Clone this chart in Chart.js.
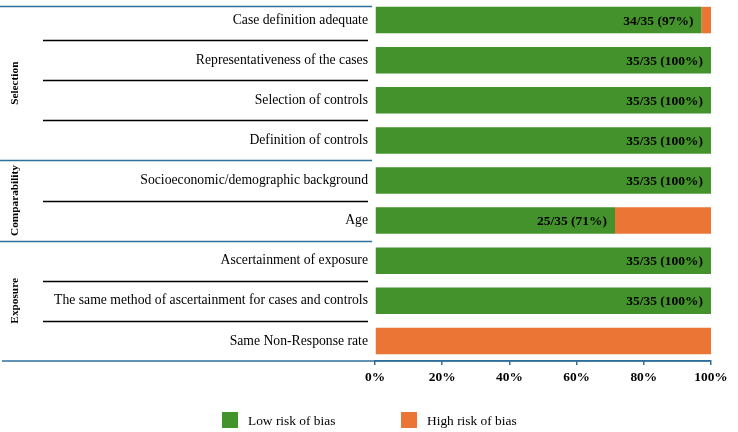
<!DOCTYPE html>
<html lang="en">
<head>
    <meta charset="UTF-8">
    <title>Risk of Bias</title>
    <script src="https://cdn.jsdelivr.net/npm/chart.js"></script>
    <style>
        body {
            margin: 0;
            background: #ffffff;
        }
        #wrap {
            width: 738px;
            height: 432px;
        }
    </style>
</head>
<body>
    <div id="wrap"><canvas id="biasChart" width="738" height="432"></canvas></div>

    <script>
        // Items of the quality assessment, top to bottom
        const categories = [
            "Case definition adequate",
            "Representativeness of the cases",
            "Selection of controls",
            "Definition of controls",
            "Socioeconomic/demographic background",
            "Age",
            "Ascertainment of exposure",
            "The same method of ascertainment for cases and controls",
            "Same Non-Response rate"
        ];
        // Domains and the first item index of each one
        const groupNames = ["Selection", "Comparability", "Exposure"];
        const groupStarts = [0, 4, 6];

        const totalStudies = 35;
        const lowCounts = [34, 35, 35, 35, 35, 25, 35, 35, 0];
        const highCounts = [1, 0, 0, 0, 0, 10, 0, 0, 35];
        const xTicks = [0, 20, 40, 60, 80, 100];

        const GREEN = "#44922b";
        const ORANGE = "#ea7535";
        const BLUE = "#2f6f9c";
        const SERIF = "'Liberation Serif', 'Times New Roman', serif";

        const lowPct = lowCounts.map(c => c / totalStudies * 100);
        const highPct = highCounts.map(c => c / totalStudies * 100);

        // Lines, domain names, value labels and legend
        const decorPlugin = {
            id: "decor",
            afterDraw(chart) {
                const ctx = chart.ctx;
                const area = chart.chartArea;
                const rowH = (area.bottom - area.top) / categories.length;
                const boundary = i => area.top + i * rowH;

                ctx.save();
                // row separators
                for (let i = 1; i < categories.length; i++) {
                    const yy = Math.round(boundary(i)) + 0.5;
                    ctx.beginPath();
                    if (groupStarts.includes(i)) {
                        ctx.strokeStyle = BLUE;
                        ctx.lineWidth = 1.5;
                        ctx.moveTo(0, yy);
                        ctx.lineTo(area.left - 3, yy);
                    } else {
                        ctx.strokeStyle = "#000000";
                        ctx.lineWidth = 1.3;
                        ctx.moveTo(43, yy);
                        ctx.lineTo(area.left - 7, yy);
                    }
                    ctx.stroke();
                }
                // top and bottom blue rules
                ctx.strokeStyle = BLUE;
                ctx.lineWidth = 1.5;
                ctx.beginPath();
                ctx.moveTo(0, area.top + 6.5);
                ctx.lineTo(area.left - 3, area.top + 6.5);
                ctx.moveTo(2, area.bottom);
                ctx.lineTo(area.right, area.bottom);
                ctx.stroke();

                // domain names, rotated
                ctx.fillStyle = "#000000";
                ctx.font = "bold 11.3px " + SERIF;
                ctx.textAlign = "center";
                ctx.textBaseline = "middle";
                groupNames.forEach((name, g) => {
                    const top = g === 0 ? area.top + 6 : boundary(groupStarts[g]);
                    const end = g + 1 < groupStarts.length ? groupStarts[g + 1] : categories.length;
                    const bottom = boundary(end);
                    ctx.save();
                    ctx.translate(15, (top + bottom) / 2);
                    ctx.rotate(-Math.PI / 2);
                    ctx.fillText(name, 0, 0);
                    ctx.restore();
                });

                // value labels inside the green bars
                const meta = chart.getDatasetMeta(0);
                ctx.font = "bold 13.5px " + SERIF;
                ctx.textAlign = "right";
                meta.data.forEach((bar, i) => {
                    if (lowCounts[i] === 0) return;
                    const txt = lowCounts[i] + "/" + totalStudies + " (" + Math.round(lowPct[i]) + "%)";
                    ctx.fillText(txt, bar.x - 8, bar.y + 1);
                });

                // legend
                ctx.font = "13.4px " + SERIF;
                ctx.textAlign = "left";
                const legendX = [222, 401];
                chart.data.datasets.forEach((ds, d) => {
                    ctx.fillStyle = ds.backgroundColor;
                    ctx.fillRect(legendX[d], 412, 16, 16);
                    ctx.fillStyle = "#000000";
                    ctx.fillText(ds.label, legendX[d] + 26, 421);
                });
                ctx.restore();
            }
        };

        const ctx = document.getElementById("biasChart").getContext("2d");
        new Chart(ctx, {
            type: "bar",
            data: {
                labels: categories,
                datasets: [
                    {
                        label: "Low risk of bias",
                        data: lowPct,
                        backgroundColor: GREEN,
                        barPercentage: 0.66,
                        categoryPercentage: 1.0
                    },
                    {
                        label: "High risk of bias",
                        data: highPct,
                        backgroundColor: ORANGE,
                        barPercentage: 0.66,
                        categoryPercentage: 1.0
                    }
                ]
            },
            options: {
                indexAxis: "y",
                responsive: false,
                animation: false,
                layout: {
                    padding: { left: 0, right: 27, top: 0, bottom: 46 }
                },
                plugins: {
                    legend: { display: false },
                    tooltip: { enabled: false }
                },
                scales: {
                    x: {
                        stacked: true,
                        min: 0,
                        max: 100,
                        afterBuildTicks(scale) {
                            scale.ticks = xTicks.map(v => ({ value: v }));
                        },
                        afterFit(scale) {
                            scale.height = 25;
                        },
                        ticks: {
                            callback: v => v + "%",
                            color: "#000000",
                            padding: 5,
                            font: { family: SERIF, size: 13.4, weight: "bold" }
                        },
                        grid: {
                            drawOnChartArea: false,
                            drawTicks: true,
                            tickLength: 4,
                            color: BLUE,
                            lineWidth: 1.5
                        },
                        border: { display: true, color: BLUE, width: 1.5 }
                    },
                    y: {
                        stacked: true,
                        afterFit(scale) {
                            scale.width = 375;
                            scale.paddingTop = 0;
                            scale.paddingBottom = 0;
                        },
                        ticks: {
                            color: "#000000",
                            padding: 7,
                            font: { family: SERIF, size: 13.7 }
                        },
                        grid: { display: false, drawTicks: false, tickLength: 0 },
                        border: { display: false }
                    }
                }
            },
            plugins: [decorPlugin]
        });
    </script>
</body>
</html>
